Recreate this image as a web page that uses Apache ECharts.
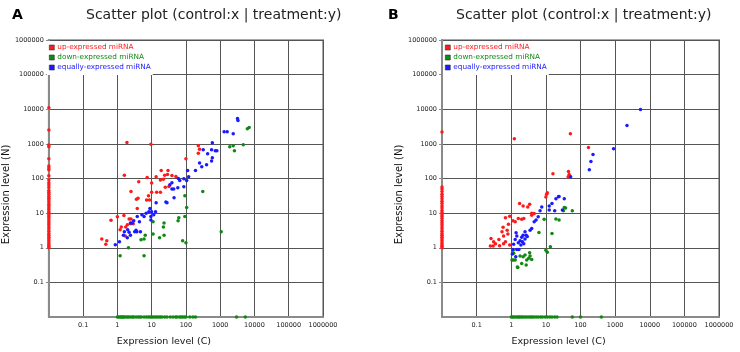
<!DOCTYPE html>
<html>
<head>
<meta charset="utf-8">
<title>Scatter plot (control:x | treatment:y)</title>
<script src="https://cdn.jsdelivr.net/npm/echarts@6/dist/echarts.min.js"></script>
<style>
    html, body { margin: 0; padding: 0; background: #fff; }
    #chart { width: 740px; height: 352px; }
</style>
</head>
<body>
<div id="chart"></div>
<script>
// series names / legend
var seriesNames = ['up-expressed miRNA', 'down-expressed miRNA', 'equally-expressed miRNA'];
var seriesColors = ['#ff1a1a', '#118811', '#1a1aff'];

// axis ticks (log10, control:x / treatment:y)
var axisMin = 0.01;
var axisMax = 1000000;

// ---- panel A : [control, treatment] ----
var aUp = [
    [1.9, 1100], [9.5, 980], [230, 880], [250, 700], [230, 540], [100, 370],
    [1.6, 125], [4.2, 81], [7.4, 107], [10, 74], [18, 91], [19, 170], [24, 125], [22, 95],
    [29, 130], [39, 123], [51, 115], [25, 56], [32, 59], [14, 40], [18, 40], [10, 40],
    [8.1, 32], [7.1, 24], [8.7, 24], [2.5, 42], [3.6, 25], [4, 27], [3.8, 13.5], [13.5, 112],
    [30, 170], [1.55, 8.5], [1, 7.9], [2.2, 6.8], [2.5, 6.8], [2.4, 4.9], [1.95, 4.6],
    [2.9, 4.9], [0.65, 6.2], [1.75, 4], [1.2, 3.3], [1.3, 4], [0.35, 1.8], [0.49, 1.6],
    [0.46, 1.26], [1.7, 2.2]
];
// control = 0, drawn on the treatment axis
var aUpZeroX = [11000, 2500, 930, 830, 370, 230, 200, 180, 120, 90, 75, 65, 55, 45, 40, 35,
    30, 27, 24, 21, 18, 16, 14, 12.5, 11, 10, 9, 8, 7, 6, 5.3, 4.6, 4, 3.5, 3, 2.6, 2.3,
    2, 1.8, 1.6, 1.4, 1.25, 1.1, 1];
var aDown = [
    [6200, 2750], [7000, 2950], [1900, 830], [2400, 890], [2600, 630], [4700, 950],
    [93, 32], [310, 42], [105, 14.5], [93, 8], [62, 7.4], [59, 6], [23, 5.2], [22, 4],
    [23, 2.3], [17, 1.95], [11, 5.6], [11, 2.5], [80, 1.6], [100, 1.4], [1070, 2.9],
    [6.5, 2.3], [6, 1.8], [4.9, 1.7], [2.1, 1], [1.2, 0.59], [6, 0.59]
];
// treatment = 0, drawn on the control axis
var aDownZeroY = [1, 1.1, 1.2, 1.3, 1.4, 1.5, 1.6, 1.8, 2, 2.2, 2.5, 2.8, 3, 3.5, 4, 4.5,
    5, 6, 7, 8, 9, 10, 11, 12.5, 14, 16, 18, 20, 24, 28, 35, 42, 50, 55, 65, 72, 80, 90,
    100, 130, 160, 190, 3000, 5400];
var aEqual = [
    [3200, 5400], [3300, 4700], [1300, 2250], [1600, 2250], [2400, 1950], [590, 1070],
    [320, 680], [560, 680], [720, 630], [800, 630], [430, 520], [590, 400], [560, 320],
    [250, 280], [290, 220], [400, 250], [190, 170], [112, 170], [120, 112], [87, 98],
    [105, 87], [66, 87], [60, 100], [87, 58], [58, 54], [39, 50], [44, 50], [34, 66],
    [39, 76], [45, 28], [26, 21], [28, 20], [13.5, 20], [8.9, 13.5], [8.3, 11], [6.9, 10],
    [10, 11], [11.5, 9], [13, 11], [9.5, 8], [9.5, 6.3], [5.2, 9], [6, 8], [3.8, 8],
    [4.4, 5.6], [3, 6], [2.4, 5.2], [2.7, 5.2], [3.2, 2.9], [3.7, 2.9], [4.7, 2.9],
    [2, 3.3], [1.6, 2.9], [1.5, 2.3], [1.95, 1.95], [1.15, 1.5], [0.87, 1.23], [2.4, 2.3],
    [3.5, 3.2], [2.2, 2.8]
];

// ---- panel B ----
var bUp = [
    [1.23, 1400], [51, 1950], [170, 780], [45, 160], [47, 130], [44, 112], [16, 137],
    [11, 39], [10.5, 35], [10, 29], [1.74, 19], [2.2, 16], [3, 15], [3.4, 18], [3.9, 10],
    [4.6, 9.8], [3.9, 8.7], [0.9, 8.1], [0.68, 7.4], [1.12, 6], [0.83, 4.8], [1.3, 5.6],
    [2, 6.6], [0.58, 3.9], [0.54, 2.9], [0.76, 3.2], [0.6, 2.2], [0.44, 1.74], [0.31, 1.48],
    [0.26, 1.86], [0.25, 1.12], [0.3, 1.12], [0.46, 1.15], [0.6, 1.3], [0.68, 1.48],
    [0.9, 1.2], [0.35, 1.3], [2.3, 7], [1.6, 7], [0.8, 2.5]
];
var bUpZeroX = [2200, 57, 50, 42, 35, 30, 26, 22, 19, 16, 14, 12, 10.5, 9, 8, 7, 6, 5.3,
    4.6, 4, 3.5, 3, 2.6, 2.3, 2, 1.8, 1.6, 1.4, 1.25, 1.1, 1];
var bDown = [
    [34, 14.5], [37, 14], [32, 11.7], [58, 11.7], [19.5, 6.8], [24, 6.3], [8.9, 6.6],
    [15, 2.6], [6.3, 2.75], [13.5, 1.07], [10, 0.85], [11, 0.74], [3.4, 0.72], [3.5, 0.58],
    [3.2, 0.5], [3.9, 0.46], [2.8, 0.44], [2.5, 0.62], [2.2, 0.55], [2.7, 0.32], [1.8, 0.58],
    [1.55, 0.27], [2, 0.35], [1.05, 0.44], [1.15, 0.44], [1.3, 0.44], [1.17, 0.69],
    [1.12, 0.85], [1.5, 0.28]
];
var bDownZeroY = [1, 1.1, 1.2, 1.35, 1.5, 1.65, 1.8, 2, 2.2, 2.5, 2.8, 3.2, 3.6, 4, 4.5,
    5.2, 6, 7, 8, 9.5, 11, 13, 15, 18, 21, 58, 100, 400];
var bEqual = [
    [5400, 9800], [2200, 3400], [900, 720], [230, 490], [200, 310], [180, 180], [52, 112],
    [34, 26], [24, 30], [23, 29.5], [19.5, 26], [15, 19], [12.5, 16], [12.5, 12.3],
    [18, 11.7], [30, 12.3], [7.6, 15], [6.8, 11.7], [6, 7.9], [5.2, 6.3], [4.6, 5.6],
    [3.9, 3.6], [3.5, 3.2], [2.5, 2.9], [2.2, 2.3], [2.7, 2.3], [2, 2], [1.6, 1.4],
    [1.8, 1.6], [2.1, 1.5], [2.3, 1.3], [1.45, 2.2], [1.3, 1.74], [1.38, 2.7], [1.17, 1.26],
    [1.12, 0.89], [1.45, 0.89], [1.66, 0.89], [1.07, 0.66], [1.35, 0.55], [2.5, 1.8],
    [2.9, 2.1], [1.9, 1.2]
];

var chart = echarts.init(document.getElementById('chart'), null, {renderer: 'canvas'});

// zero values can not go on a log axis: they sit on the axis line (axis min)
function onAxis(v) {
    return v > 0 ? v : axisMin;
}
function pairs(list) {
    return list.map(function (p) { return [onAxis(p[0]), onAxis(p[1])]; });
}
function zeroX(list) {
    return list.map(function (y) { return [axisMin, y]; });
}
function zeroY(list) {
    return list.map(function (x) { return [x, axisMin]; });
}

function tickLabel(v) {
    if (v < 0.05) return '';
    return String(+v.toPrecision(3));
}

function makeX(idx) {
    return {
        type: 'log', logBase: 10, gridIndex: idx, min: axisMin, max: axisMax,
        name: 'Expression level (C)', nameLocation: 'middle', nameGap: 20,
        nameTextStyle: {fontFamily: 'DejaVu Sans', fontSize: 9.5, color: '#111', padding: [0, 44, 0, 0]},
        axisLine: {onZero: false, lineStyle: {color: '#8a8a8a', width: 2}},
        axisTick: {show: false},
        axisLabel: {formatter: tickLabel, showMinLabel: false, fontFamily: 'DejaVu Sans', fontSize: 6.5, color: '#222', margin: 5},
        splitLine: {show: true, lineStyle: {color: '#555', width: 1}},
        minorTick: {show: false}
    };
}
function makeY(idx) {
    return {
        type: 'log', logBase: 10, gridIndex: idx, min: axisMin, max: axisMax,
        name: 'Expression level (N)', nameLocation: 'middle', nameGap: 31,
        nameTextStyle: {fontFamily: 'DejaVu Sans', fontSize: 10, color: '#111', padding: [0, 32, 0, 0]},
        axisLine: {onZero: false, lineStyle: {color: '#8a8a8a', width: 2}},
        axisTick: {show: true, length: 3, lineStyle: {color: '#8a8a8a'}},
        axisLabel: {formatter: tickLabel, showMinLabel: false, fontFamily: 'DejaVu Sans', fontSize: 6.5, color: '#222', margin: 5},
        splitLine: {show: true, lineStyle: {color: '#555', width: 1}}
    };
}

function makeSeries(idx, up, upZero, down, downZero, equal) {
    var sets = [
        pairs(up).concat(zeroX(upZero)),
        pairs(down).concat(zeroY(downZero)),
        pairs(equal)
    ];
    return sets.map(function (d, i) {
        return {
            name: seriesNames[i], type: 'scatter',
            xAxisIndex: idx, yAxisIndex: idx,
            symbol: 'circle', symbolSize: 3.5,
            itemStyle: {color: seriesColors[i], opacity: 1},
            emphasis: {disabled: true},
            data: d
        };
    });
}

function makeLegend(left) {
    return {
        orient: 'vertical', left: left, top: 41,
        backgroundColor: '#fff', padding: [2, 2, 3, 2],
        itemWidth: 5, itemHeight: 5, itemGap: 1,
        icon: 'rect',
        itemStyle: {borderColor: '#333', borderWidth: 0.6},
        textStyle: {fontFamily: 'DejaVu Sans', fontSize: 7.3, lineHeight: 9, padding: [0, 0, 0, -2]},
        selectedMode: false,
        data: seriesNames.map(function (n, i) {
            return {name: n, textStyle: {color: seriesColors[i]}};
        })
    };
}

var option = {
    backgroundColor: '#fff',
    animation: false,
    title: [
        {text: 'A', left: 7, top: 3, textStyle: {fontFamily: 'DejaVu Sans', fontSize: 14, fontWeight: 'bold', color: '#000'}},
        {text: 'Scatter plot (control:x | treatment:y)', left: 81, top: 3, textStyle: {fontFamily: 'DejaVu Sans', fontSize: 14, fontWeight: 'normal', color: '#222'}},
        {text: 'B', left: 383, top: 3, textStyle: {fontFamily: 'DejaVu Sans', fontSize: 14, fontWeight: 'bold', color: '#000'}},
        {text: 'Scatter plot (control:x | treatment:y)', left: 451, top: 3, textStyle: {fontFamily: 'DejaVu Sans', fontSize: 14, fontWeight: 'normal', color: '#222'}}
    ],
    legend: [makeLegend(47), makeLegend(443)],
    grid: [
        {left: 46, top: 40, width: 277, height: 277, show: true, borderColor: '#a8a8a8', borderWidth: 2, backgroundColor: '#fff'},
        {left: 442, top: 40, width: 277, height: 277, show: true, borderColor: '#a8a8a8', borderWidth: 2, backgroundColor: '#fff'}
    ],
    xAxis: [makeX(0), makeX(1)],
    yAxis: [makeY(0), makeY(1)],
    series: makeSeries(0, aUp, aUpZeroX, aDown, aDownZeroY, aEqual)
        .concat(makeSeries(1, bUp, bUpZeroX, bDown, bDownZeroY, bEqual))
};

chart.setOption(option);
</script>
</body>
</html>
